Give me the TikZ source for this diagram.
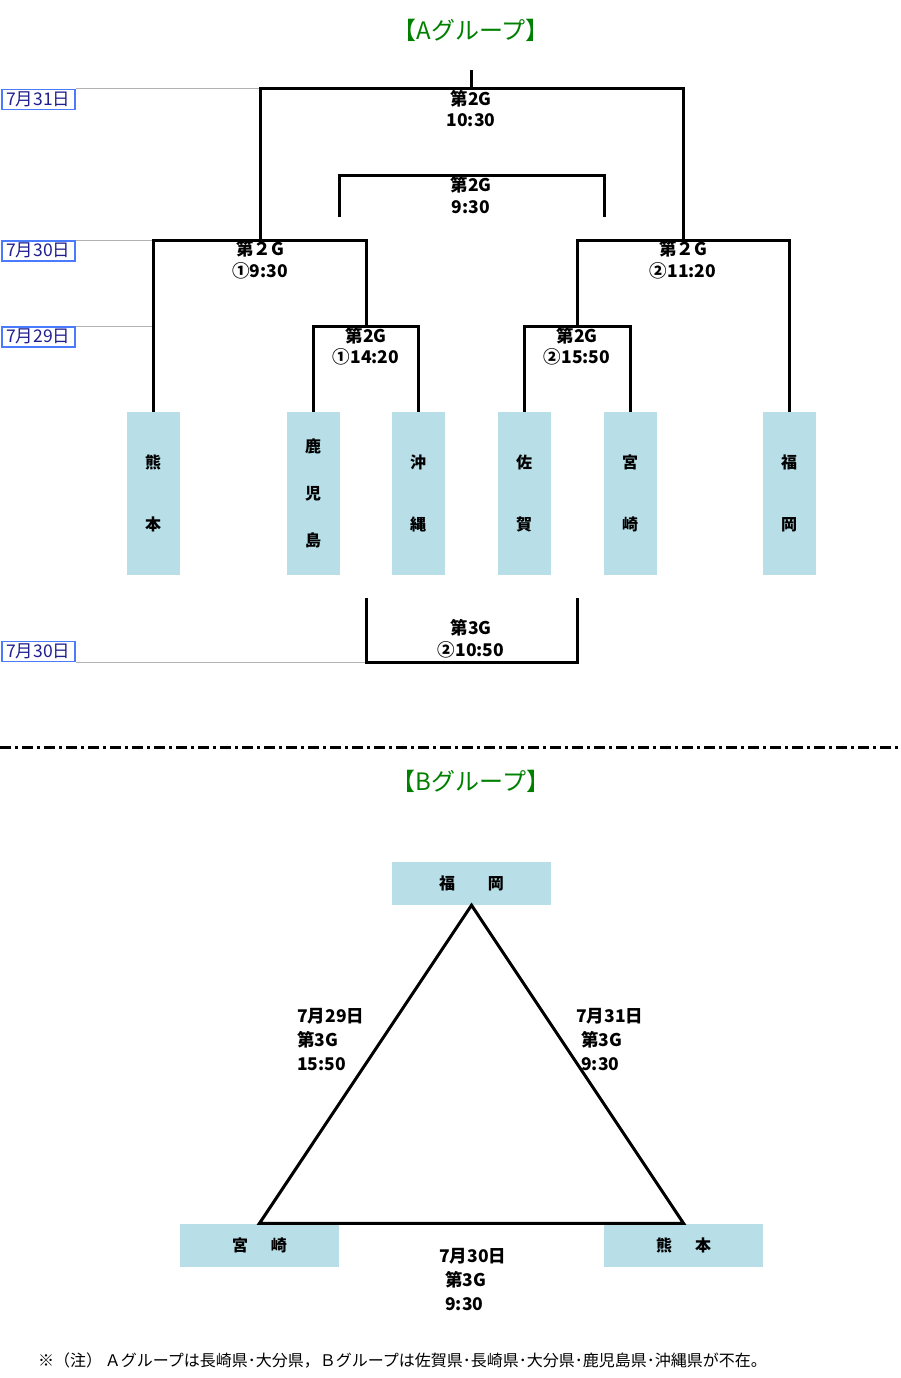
\documentclass[tikz,border=0pt]{standalone}
\usepackage{fontspec}
\setmainfont{Noto Sans CJK JP}
\usetikzlibrary{calc}
\definecolor{teamblue}{HTML}{B8DFE8}
\definecolor{titlegreen}{HTML}{008000}
\definecolor{datenavy}{HTML}{1F1F8F}
\definecolor{dateframe}{HTML}{4A7BFF}

\begin{document}
\begin{tikzpicture}[x=1pt,y=-1pt,
		bracket/.style={line width=3pt},
		teambox/.style={fill=teamblue,minimum width=53pt,minimum height=163pt,inner sep=0pt,align=center,font=\fontsize{16}{19}\selectfont\bfseries},
		teamrow/.style={fill=teamblue,minimum width=159pt,minimum height=43pt,inner sep=0pt,font=\fontsize{16}{19}\selectfont\bfseries},
		gamelabel/.style={inner sep=0pt,align=center,font=\fontsize{17.5}{21.5}\selectfont\bfseries},
		leaguelabel/.style={inner sep=0pt,align=left,anchor=north west,font=\fontsize{17.5}{24}\selectfont\bfseries},
		datebox/.style={draw=dateframe,line width=1.5pt,text=datenavy,minimum width=73pt,minimum height=20pt,inner sep=0pt,anchor=north west,font=\fontsize{17.5}{18}\selectfont},
		dateline/.style={draw=black!30,line width=1pt},
		grouptitle/.style={text=titlegreen,font=\fontsize{24}{28}\selectfont}]
	\useasboundingbox (0,0) rectangle (900,1378);

	% A group
	\node[grouptitle] (titleA) at (471,30) {【Aグループ】};

	\node[teambox] (kuma) at (153,493.5) {熊\\[43pt]本};
	\node[teambox] (kago) at (313,493.5) {鹿\\[28pt]児\\[28pt]島};
	\node[teambox] (oki)  at (418,493.5) {沖\\[43pt]縄};
	\node[teambox] (saga) at (524,493.5) {佐\\[43pt]賀};
	\node[teambox] (miya) at (630,493.5) {宮\\[43pt]崎};
	\node[teambox] (fuku) at (789,493.5) {福\\[43pt]岡};

	\coordinate (fin) at (471,89);
	\coordinate (finTop) at (471,70);
	\coordinate (sfL) at (260,240);
	\coordinate (sfR) at (683,240);
	\coordinate (qfL) at (366,326);
	\coordinate (qfR) at (577,326);
	\coordinate (p3) at (471,175);
	\coordinate (p3L) at (339,217);
	\coordinate (p3R) at (604,217);
	\coordinate (b3) at (471,662);
	\coordinate (b3L) at (366,598);
	\coordinate (b3R) at (577,598);

	% dates
	\node[datebox] (d31) at (1,89) {7月31日};
	\node[datebox] (d30) at (1,240) {7月30日};
	\node[datebox] (d29) at (1,326) {7月29日};
	\node[datebox,anchor=south west] (d30b) at (1,662) {7月30日};
	\draw[dateline] (d31.north east) -- (fin -| sfL);
	\draw[dateline] (d30.north east) -- (sfL -| kuma);
	\draw[dateline] (d29.north east) -- (qfL -| kuma);
	\draw[dateline] (d30b.south east) -- (b3 -| b3L);

	% bracket
	\draw[bracket] (fin) -- (finTop);
	\draw[bracket] (sfL) |- (fin) -| (sfR);
	\draw[bracket] (kuma.north) |- (sfL) -| (qfL);
	\draw[bracket] (kago.north) |- (qfL) -| (oki.north);
	\draw[bracket] (qfR) |- (sfR) -| (fuku.north);
	\draw[bracket] (saga.north) |- (qfR) -| (miya.north);
	\draw[bracket] (p3L) |- (p3) -| (p3R);
	\draw[bracket] (b3L) |- (b3) -| (b3R);

	\node[gamelabel] (gfin) at (471,108.5) {第2G\\10:30};
	\node[gamelabel] (gp3)  at (471,195) {第2G\\9:30};
	\node[gamelabel] (gsfL) at (260,260) {第２G\\①9:30};
	\node[gamelabel] (gsfR) at (683,260) {第２G\\②11:20};
	\node[gamelabel] (gqfL) at (366,346.5) {第2G\\①14:20};
	\node[gamelabel] (gqfR) at (577,346.5) {第2G\\②15:50};
	\node[gamelabel] (gb3)  at (471,639) {第3G\\②10:50};

	% separator
	\draw[line width=3pt,dash pattern=on 11pt off 4pt on 3pt off 4pt] (0,747) -- (900,747);

	% B group
	\node[grouptitle] (titleB) at (471,781) {【Bグループ】};

	\node[teamrow] (fukB) at (471.5,883.5) {福\hspace{33pt}岡};
	\node[teamrow] (miyB) at (259.5,1245) {宮\hspace{23pt}崎};
	\node[teamrow] (kumB) at (683.5,1245) {熊\hspace{23pt}本};

	\draw[bracket,line join=miter] (fukB.south) -- (kumB.north) -- (miyB.north) -- cycle;

	\node[leaguelabel] (gFM) at (297,1008) {7月29日\\第3G\\15:50};
	\node[leaguelabel] (gFK) at (576,1008) {7月31日\\\hspace*{5pt}第3G\\\hspace*{5pt}9:30};
	\node[leaguelabel] (gMK) at (439,1248) {7月30日\\\hspace*{6pt}第3G\\\hspace*{6pt}9:30};

	\node[anchor=west,inner sep=0pt,font=\fontsize{16}{18}\selectfont] (note) at (38,1360) {※（注）\,Ａグループは長崎県･大分県，Ｂグループは佐賀県･長崎県･大分県･鹿児島県･沖縄県が不在。};
\end{tikzpicture}
\end{document}
